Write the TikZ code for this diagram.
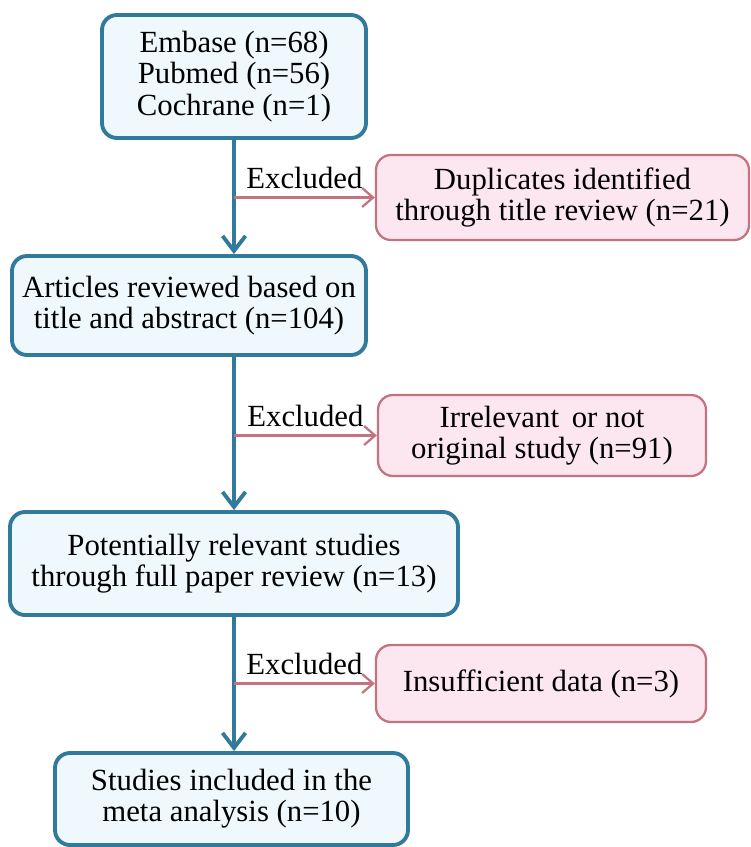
\documentclass[tikz,border=0pt]{standalone}
\usepackage{fontspec}
\setmainfont{Liberation Serif}
\usepackage{xcolor}
\usepackage{tikz}
\usetikzlibrary{arrows.meta,positioning,calc}
\definecolor{FlowBlue}  {RGB}{ 49, 122, 156}
\definecolor{FlowBlueBg}{RGB}{239, 248, 252}
\definecolor{FlowPink}  {RGB}{196, 116, 128}
\definecolor{FlowPinkBg}{RGB}{252, 231, 240}

\tikzset{
  mainbox/.style={draw=FlowBlue, fill=FlowBlueBg, line width=2.2pt,
    rounded corners=0.3cm, align=center, inner sep=0pt},
  exclbox/.style={draw=FlowPink, fill=FlowPinkBg, line width=1.3pt,
    rounded corners=0.3cm, align=center, inner sep=0pt},
  mainline/.style={draw=FlowBlue, line width=2.2pt,
    -{Straight Barb[length=0.3cm, width=0.46cm, line width=2.2pt]}},
  excline/.style={draw=FlowPink, line width=1.3pt,
    -{Straight Barb[length=0.22cm, width=0.38cm, line width=1.3pt]}}
}

\begin{document}
\begin{tikzpicture}[font=\fontsize{17.5pt}{17.7pt}\selectfont]
      \useasboundingbox (0,0) rectangle (15,-16.94);
      % boxes
      \node[mainbox, minimum width=5.28cm, minimum height=2.46cm]
        (search) at (4.68,-1.53)
        {Embase (n=68)\\ Pubmed (n=56)\\ Cochrane (n=1)};
      \node[exclbox, minimum width=7.46cm, minimum height=1.70cm]
        (dupl) at (11.25,-3.95)
        {Duplicates identified\\ through title review (n=21)};
      \node[mainbox, minimum width=7.08cm, minimum height=1.98cm]
        (abstr) at (3.78,-6.11)
        {Articles reviewed based on\\ title and abstract (n=104)};
      \node[exclbox, minimum width=6.56cm, minimum height=1.62cm]
        (irrel) at (10.84,-8.71)
        {Irrelevant\, or not\\ original study (n=91)};
      \node[mainbox, minimum width=8.96cm, minimum height=2.06cm]
        (fulltext) at (4.68,-11.27)
        {Potentially relevant studies\\ through full paper review (n=13)};
      \node[exclbox, minimum width=6.6cm, minimum height=1.54cm]
        (insuff) at (10.82,-13.67)
        {Insufficient data (n=3)};
      \node[mainbox, minimum width=7.06cm, minimum height=1.84cm]
        (included) at (4.63,-15.98)
        {Studies included in the\\ meta analysis (n=10)};

      % connectors
      \draw[mainline] (search.south) -- (search.south |- abstr.north);
      \draw[mainline] (search.south |- abstr.south) -- (fulltext.north);
      \draw[mainline] (fulltext.south) -- (fulltext.south |- included.north);

      \coordinate (ex1) at (search.south |- dupl.west);
      \coordinate (ex2) at (search.south |- irrel.west);
      \coordinate (ex3) at (fulltext.south |- insuff.west);
      \draw[excline] (ex1) -- node[above=1pt] {Excluded} (dupl.west);
      \draw[excline] (ex2) -- node[above=1pt] {Excluded} (irrel.west);
      \draw[excline] (ex3) -- node[above=1pt] {Excluded} (insuff.west);
    \end{tikzpicture}
\end{document}
